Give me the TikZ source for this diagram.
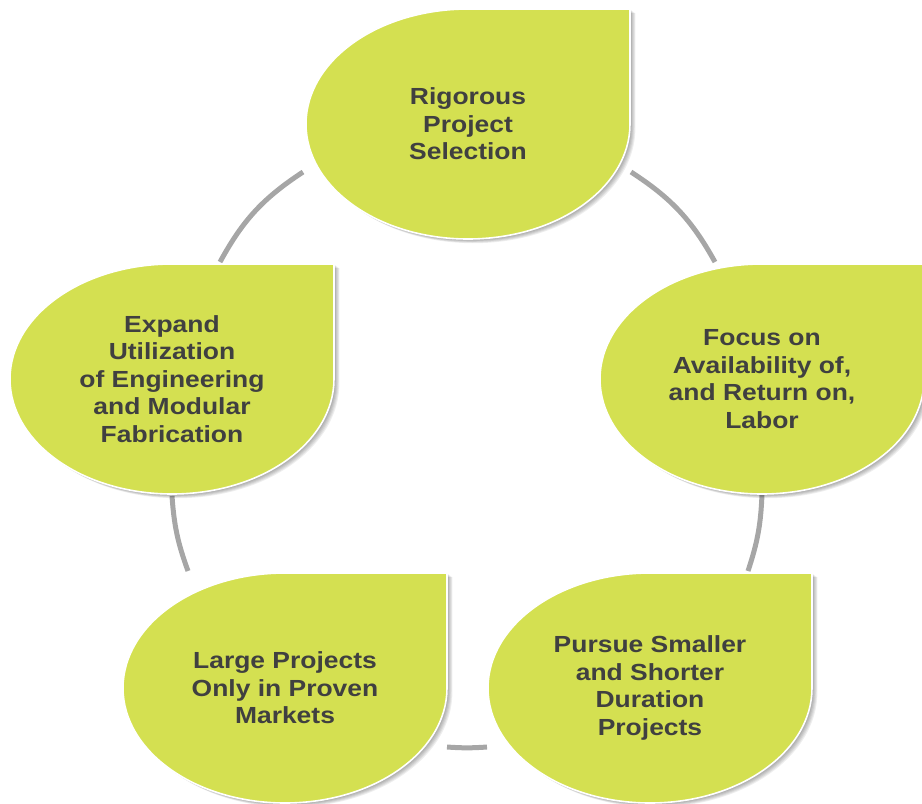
\documentclass[tikz,border=0pt]{standalone}
\usepackage{fontspec}
\setmainfont{Liberation Sans}[FakeStretch=1.135]
\definecolor{leafgreen}{RGB}{212,224,81}
\definecolor{leaftxt}{RGB}{64,64,64}
\definecolor{ringgrey}{RGB}{166,166,166}
\tikzset{
  leaffill/.style={fill=leafgreen},
  leafedge/.style={draw=white,line width=1.6},
  leaftext/.style={text=leaftxt,align=center,font=\fontsize{23.3}{27.6}\selectfont\bfseries,inner sep=0pt},
  ring/.style={draw=ringgrey,line width=5}
}
\newcommand\leafshape{(162,0) -- (324,0) -- (324,-115) .. controls (324,-178.5) and (251.5,-230) .. (162,-230) .. controls (72.5,-230) and (0,-178.5) .. (0,-115) .. controls (0,-51.5) and (72.5,0) .. (162,0) -- cycle}
\newcommand\drawleaf[4]{%
  \begin{scope}[shift={(#1,-#2)}]
    \foreach \d in {1,...,6}{\fill[black,opacity=0.065,shift={(\d*0.9,-\d*0.7)}] \leafshape;}
    \fill[leaffill] \leafshape;
    \draw[leafedge] \leafshape;
    \node[leaftext] (#3) at (162,-115) {#4};
  \end{scope}}
\begin{document}
\begin{tikzpicture}[x=1pt,y=1pt]
\useasboundingbox (0,0) rectangle (922,-804);
\clip (0,0) rectangle (922,-804);
% ring segments
\coordinate (a1) at (303,-172); \coordinate (a2) at (220,-262);
\coordinate (b1) at (631,-172); \coordinate (b2) at (715,-262);
\coordinate (c1) at (762,-494); \coordinate (c2) at (748,-571);
\coordinate (d1) at (172,-496); \coordinate (d2) at (188,-571);
\coordinate (e1) at (447,-747); \coordinate (e2) at (487,-747);
\draw[ring] (a1) to[bend right=14] (a2);
\draw[ring] (b1) to[bend left=14] (b2);
\draw[ring] (c1) to[bend left=8] (c2);
\draw[ring] (d1) to[bend right=8] (d2);
\draw[ring] (e1) to[bend right=4] (e2);
% leaves
\drawleaf{306}{9}{top}{Rigorous\\Project\\Selection}
\drawleaf{600}{264}{right}{Focus on\\Availability of,\\and Return on,\\Labor}
\drawleaf{488}{573}{botright}{Pursue Smaller\\and Shorter\\Duration\\Projects}
\drawleaf{123}{573}{botleft}{Large Projects\\Only in Proven\\Markets}
\drawleaf{10}{264}{left}{Expand\\Utilization\\of Engineering\\and Modular\\Fabrication}
\end{tikzpicture}
\end{document}
